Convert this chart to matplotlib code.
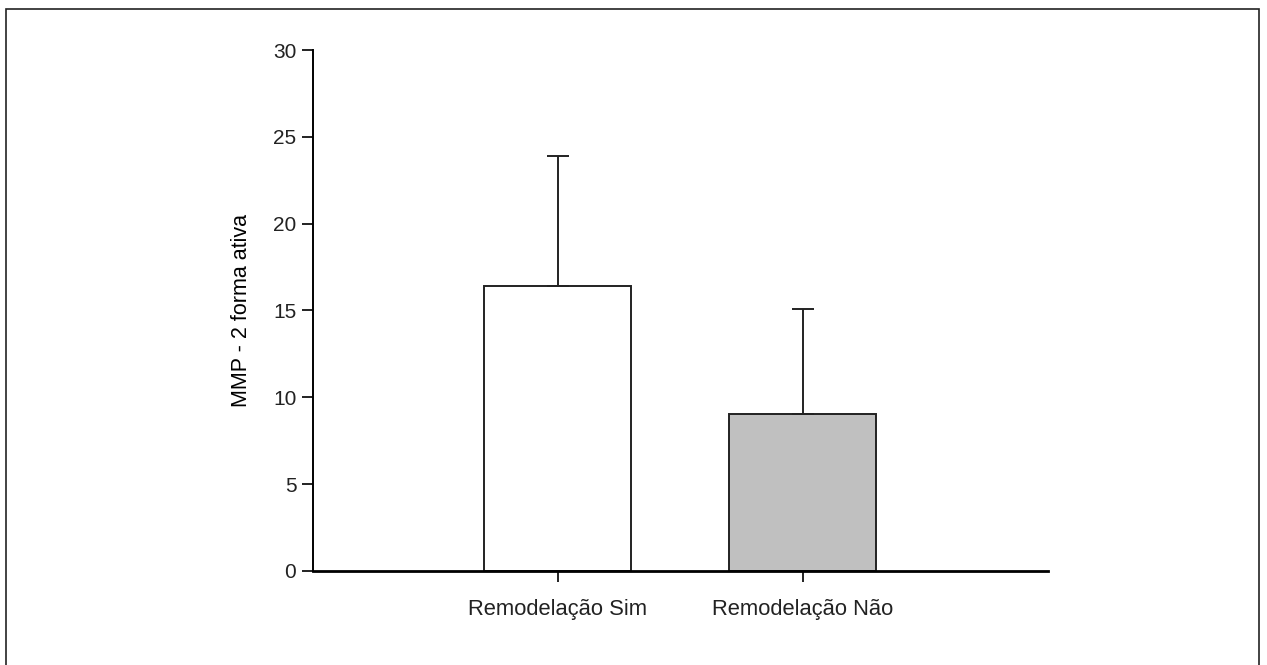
import matplotlib.pyplot as plt
from matplotlib.patches import Rectangle

plt.rcParams['font.family'] = ['Liberation Sans', 'DejaVu Sans']

# values
groups = ['Remodelação Sim', 'Remodelação Não']
means = [16.4, 9.05]
errors = [7.5, 6.05]
colors = ['white', '#c0c0c0']

fig = plt.figure(figsize=(12.67, 6.65), dpi=100)
ax = fig.add_axes([0.247, 0.1414, 0.58, 0.7834])

# grey frame around the whole figure
fig.patches.append(Rectangle((6 / 1267, -0.05), 1253 / 1267, 1.05 - 9 / 665,
                             transform=fig.transFigure, fill=False,
                             edgecolor='#222222', linewidth=1.2))

x = [1, 2]
ax.bar(x, means, width=0.6, color=colors, edgecolor='#222222', linewidth=1.4)
ax.errorbar(x, means, yerr=[[0, 0], errors], fmt='none', ecolor='#222222',
            elinewidth=1.4, capsize=8, capthick=1.4)

ax.set_xlim(0, 3)
ax.set_ylim(0, 30)
ax.set_yticks([0, 5, 10, 15, 20, 25, 30])
ax.set_xticks(x)
ax.set_xticklabels(groups, fontsize=15.8)
ax.set_ylabel('MMP - 2 forma ativa', fontsize=15.5, labelpad=15)

ax.spines['top'].set_visible(False)
ax.spines['right'].set_visible(False)
ax.spines['left'].set_linewidth(1.4)
ax.spines['bottom'].set_linewidth(2)
ax.tick_params(axis='both', length=8, width=1.4, direction='out', colors='#222222')
ax.tick_params(axis='y', labelsize=15, pad=4)
ax.tick_params(axis='x', pad=12)

fig.savefig('out.png', dpi=100)
